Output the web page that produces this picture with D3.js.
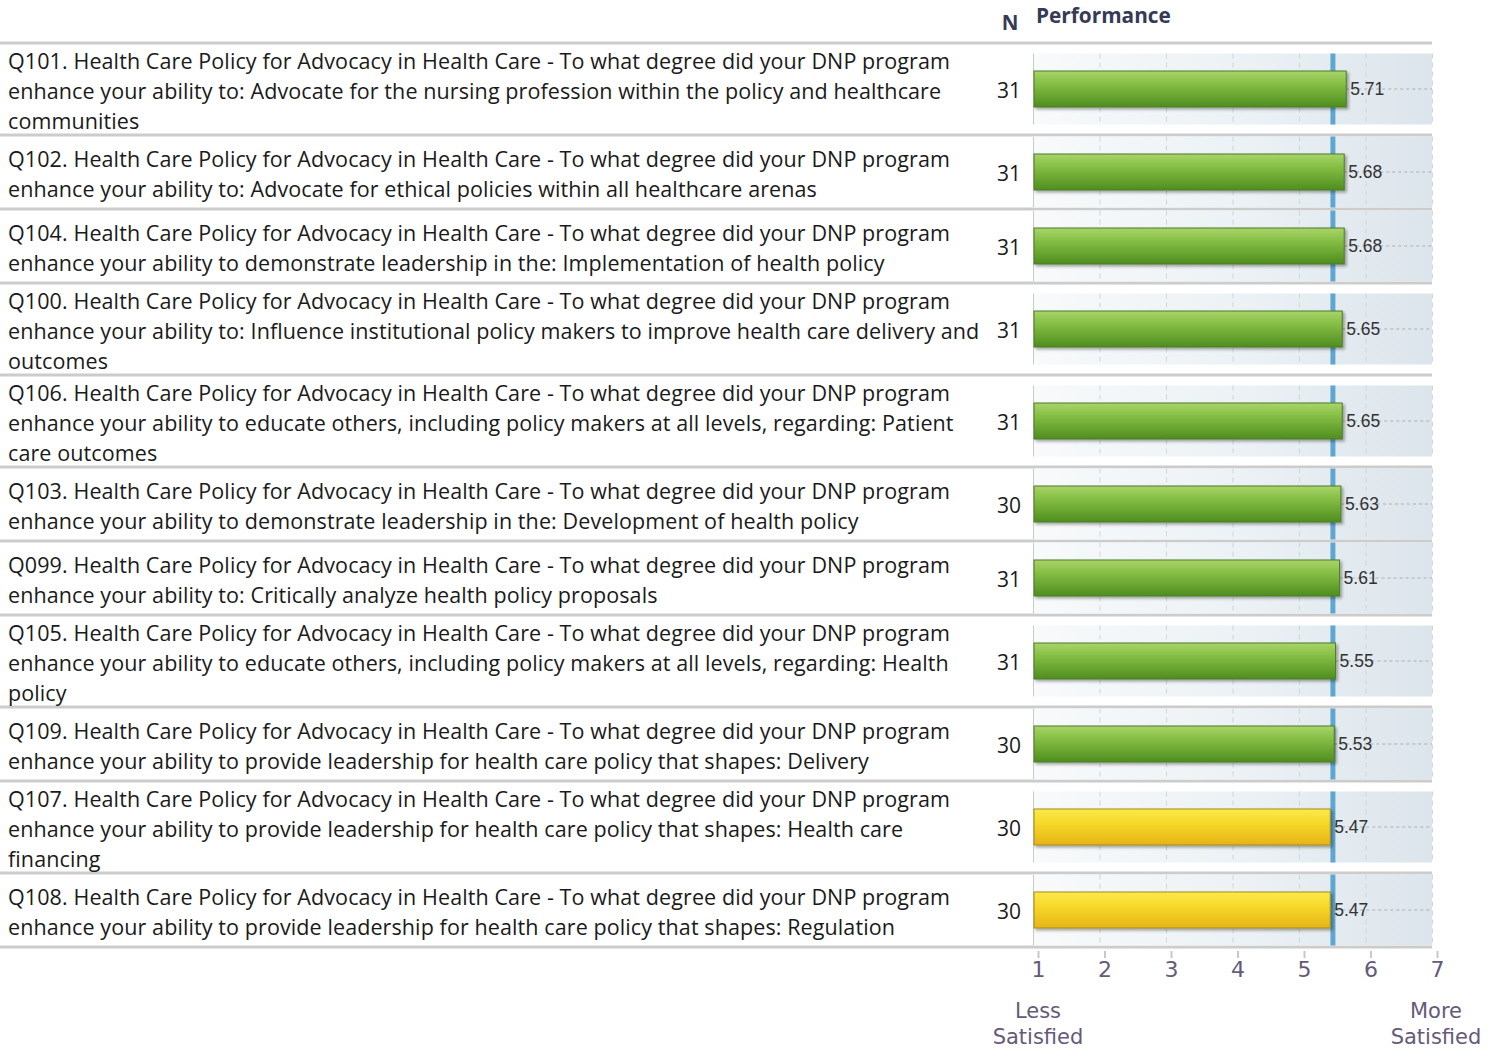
<!DOCTYPE html>
<html>
<head>
<meta charset="utf-8">
<script src="https://cdn.jsdelivr.net/npm/d3@7"></script>
<style>
  body { margin: 0; background: #fff; }
</style>
</head>
<body>
<svg id="chart"></svg>
<script>
// Question text, already broken into lines as in the report
const questions = [
  ['Q101. Health Care Policy for Advocacy in Health Care - To what degree did your DNP program',
   'enhance your ability to: Advocate for the nursing profession within the policy and healthcare',
   'communities'],
  ['Q102. Health Care Policy for Advocacy in Health Care - To what degree did your DNP program',
   'enhance your ability to: Advocate for ethical policies within all healthcare arenas'],
  ['Q104. Health Care Policy for Advocacy in Health Care - To what degree did your DNP program',
   'enhance your ability to demonstrate leadership in the: Implementation of health policy'],
  ['Q100. Health Care Policy for Advocacy in Health Care - To what degree did your DNP program',
   'enhance your ability to: Influence institutional policy makers to improve health care delivery and',
   'outcomes'],
  ['Q106. Health Care Policy for Advocacy in Health Care - To what degree did your DNP program',
   'enhance your ability to educate others, including policy makers at all levels, regarding: Patient',
   'care outcomes'],
  ['Q103. Health Care Policy for Advocacy in Health Care - To what degree did your DNP program',
   'enhance your ability to demonstrate leadership in the: Development of health policy'],
  ['Q099. Health Care Policy for Advocacy in Health Care - To what degree did your DNP program',
   'enhance your ability to: Critically analyze health policy proposals'],
  ['Q105. Health Care Policy for Advocacy in Health Care - To what degree did your DNP program',
   'enhance your ability to educate others, including policy makers at all levels, regarding: Health',
   'policy'],
  ['Q109. Health Care Policy for Advocacy in Health Care - To what degree did your DNP program',
   'enhance your ability to provide leadership for health care policy that shapes: Delivery'],
  ['Q107. Health Care Policy for Advocacy in Health Care - To what degree did your DNP program',
   'enhance your ability to provide leadership for health care policy that shapes: Health care',
   'financing'],
  ['Q108. Health Care Policy for Advocacy in Health Care - To what degree did your DNP program',
   'enhance your ability to provide leadership for health care policy that shapes: Regulation']
];
const respondents = [31, 31, 31, 31, 31, 30, 31, 31, 30, 30, 30];
const scores = [5.71, 5.68, 5.68, 5.65, 5.65, 5.63, 5.61, 5.55, 5.53, 5.47, 5.47];
const scaleTicks = [1, 2, 3, 4, 5, 6, 7];
const benchmark = 5.51;

const WIDTH = 1499, HEIGHT = 1050;
const TOP = 43, LINE_H = 30, PANEL_H = 71, BAR_H = 36;
const MAIN_FONT = '"Open Sans", "Noto Sans", sans-serif';
const AXIS_FONT = '"DejaVu Sans", Verdana, sans-serif';

const svg = d3.select('#chart')
  .attr('width', WIDTH)
  .attr('height', HEIGHT)
  .style('font-family', MAIN_FONT);

const defs = svg.append('defs');

// gradients for the bars and panel background
function vGrad(id, stops) {
  const g = defs.append('linearGradient').attr('id', id)
    .attr('x1', 0).attr('y1', 0).attr('x2', 0).attr('y2', 1);
  stops.forEach(s => g.append('stop').attr('offset', s[0]).attr('stop-color', s[1]));
}
vGrad('greenGrad', [[0, '#a9d46a'], [0.35, '#86bf45'], [1, '#4f8d1f']]);
vGrad('yellowGrad', [[0, '#fbea4a'], [0.4, '#f6d82a'], [1, '#e6b416']]);

const bg = defs.append('linearGradient').attr('id', 'panelGrad')
  .attr('x1', 0).attr('y1', 0).attr('x2', 1).attr('y2', 0);
bg.append('stop').attr('offset', 0).attr('stop-color', '#f8fafb');
bg.append('stop').attr('offset', 0.55).attr('stop-color', '#ebf1f5');
bg.append('stop').attr('offset', 1).attr('stop-color', '#dce5eb');

const shadow = defs.append('filter').attr('id', 'shadow')
  .attr('x', -0.05).attr('y', -0.3).attr('width', 1.1).attr('height', 1.7);
shadow.append('feDropShadow').attr('dx', 2).attr('dy', 2).attr('stdDeviation', 1.5)
  .attr('flood-color', '#000').attr('flood-opacity', 0.35);

const x = d3.scaleLinear().domain([1, 7]).range([1033, 1432]);

// row layout: height depends on number of text lines
const rows = [];
let yPos = TOP;
questions.forEach((lines, i) => {
  const h = Math.max(lines.length * LINE_H + 2, 74);
  rows.push({ lines, n: respondents[i], score: scores[i], y0: yPos, h });
  yPos += h;
});
const bottom = yPos;

// header
svg.append('text')
  .attr('x', 1010).attr('y', 30)
  .attr('text-anchor', 'middle')
  .attr('font-size', 20.5).attr('font-weight', 'bold')
  .attr('fill', '#363a55')
  .text('N');
svg.append('text')
  .attr('x', 1036).attr('y', 23)
  .attr('font-size', 20.8).attr('font-weight', 'bold')
  .attr('fill', '#363a55')
  .text('Performance');

// separators
const seps = [TOP].concat(rows.map(r => r.y0 + r.h));
svg.selectAll('.sep')
  .data(seps)
  .enter().append('line')
  .attr('class', 'sep')
  .attr('x1', 0).attr('x2', 1432)
  .attr('y1', d => d).attr('y2', d => d)
  .attr('stroke', '#cccccc').attr('stroke-width', 3);

const row = svg.selectAll('.row')
  .data(rows)
  .enter().append('g')
  .attr('class', 'row')
  .attr('transform', d => `translate(0,${d.y0})`);

// question text
row.append('text')
  .attr('font-size', 21.5)
  .attr('letter-spacing', 0.1)
  .attr('fill', '#1a1a1a')
  .each(function (d) {
    const top = d.h / 2 - (d.lines.length * LINE_H) / 2 + 2;
    d3.select(this).selectAll('tspan')
      .data(d.lines)
      .enter().append('tspan')
      .attr('x', 8)
      .attr('y', (l, i) => top + LINE_H * i + LINE_H / 2)
      .attr('dy', '0.35em')
      .text(l => l);
  });

// N
row.append('text')
  .attr('x', 1021)
  .attr('y', d => d.h / 2 + 2)
  .attr('dy', '0.35em')
  .attr('text-anchor', 'end')
  .attr('font-size', 21)
  .attr('fill', '#1a1a1a')
  .text(d => d.n);

// panel background
const panel = row.append('g')
  .attr('transform', d => `translate(0,${(d.h - PANEL_H) / 2})`);

panel.append('rect')
  .attr('x', x(1)).attr('width', x(7) - x(1))
  .attr('y', 0).attr('height', PANEL_H)
  .attr('fill', 'url(#panelGrad)');

panel.selectAll('.grid')
  .data(scaleTicks)
  .enter().append('line')
  .attr('class', 'grid')
  .attr('x1', d => x(d) + 0.5).attr('x2', d => x(d) + 0.5)
  .attr('y1', 0).attr('y2', PANEL_H)
  .attr('stroke', d => d === 1 ? '#c4ccd2' : '#cfd6dc')
  .attr('stroke-dasharray', d => d === 1 ? null : '5,4');

// dotted leader from bar end to panel edge
panel.append('line')
  .attr('x1', d => x(d.score)).attr('x2', x(7))
  .attr('y1', PANEL_H / 2).attr('y2', PANEL_H / 2)
  .attr('stroke', '#a9b0b5')
  .attr('stroke-dasharray', '3,3');

// benchmark line
panel.append('line')
  .attr('x1', x(benchmark)).attr('x2', x(benchmark))
  .attr('y1', 0).attr('y2', PANEL_H)
  .attr('stroke', '#5ea7d2').attr('stroke-width', 5);

// bars
panel.append('rect')
  .attr('x', x(1) + 1)
  .attr('y', (PANEL_H - BAR_H) / 2)
  .attr('width', d => x(d.score) - x(1) - 1)
  .attr('height', BAR_H)
  .attr('fill', d => d.score >= benchmark ? 'url(#greenGrad)' : 'url(#yellowGrad)')
  .attr('stroke', d => d.score >= benchmark ? '#4d7d25' : '#a88a1c')
  .attr('stroke-width', 1)
  .attr('filter', 'url(#shadow)');

// value labels
panel.append('text')
  .attr('x', d => x(d.score) + 4)
  .attr('y', PANEL_H / 2)
  .attr('dy', '0.36em')
  .style('font-family', '"Liberation Sans", Arial, sans-serif')
  .attr('font-size', 17.5)
  .attr('fill', '#333')
  .text(d => d3.format('.2f')(d.score));

// bottom axis
const axis = svg.append('g')
  .attr('transform', `translate(5,${bottom + 4})`)
  .call(d3.axisBottom(x).tickValues(scaleTicks).tickSize(7).tickPadding(3).tickFormat(d3.format('d')));
axis.select('.domain').remove();
axis.selectAll('.tick line').attr('stroke', '#c8c8c8').attr('stroke-width', 2);
axis.selectAll('.tick text')
  .style('font-family', AXIS_FONT)
  .attr('font-size', 22)
  .attr('fill', '#665a78');

// end captions
const captions = [
  { v: 1, lines: ['Less', 'Satisfied'] },
  { v: 7, lines: ['More', 'Satisfied'] }
];
svg.selectAll('.cap')
  .data(captions)
  .enter().append('text')
  .attr('class', 'cap')
  .attr('text-anchor', 'middle')
  .style('font-family', AXIS_FONT)
  .attr('font-size', 21)
  .attr('fill', '#665a78')
  .each(function (d) {
    d3.select(this).selectAll('tspan')
      .data(d.lines)
      .enter().append('tspan')
      .attr('x', x(d.v) + (d.v === 1 ? 5 : 4))
      .attr('y', (l, i) => 1018 + i * 26)
      .text(l => l);
  });
</script>
</body>
</html>
